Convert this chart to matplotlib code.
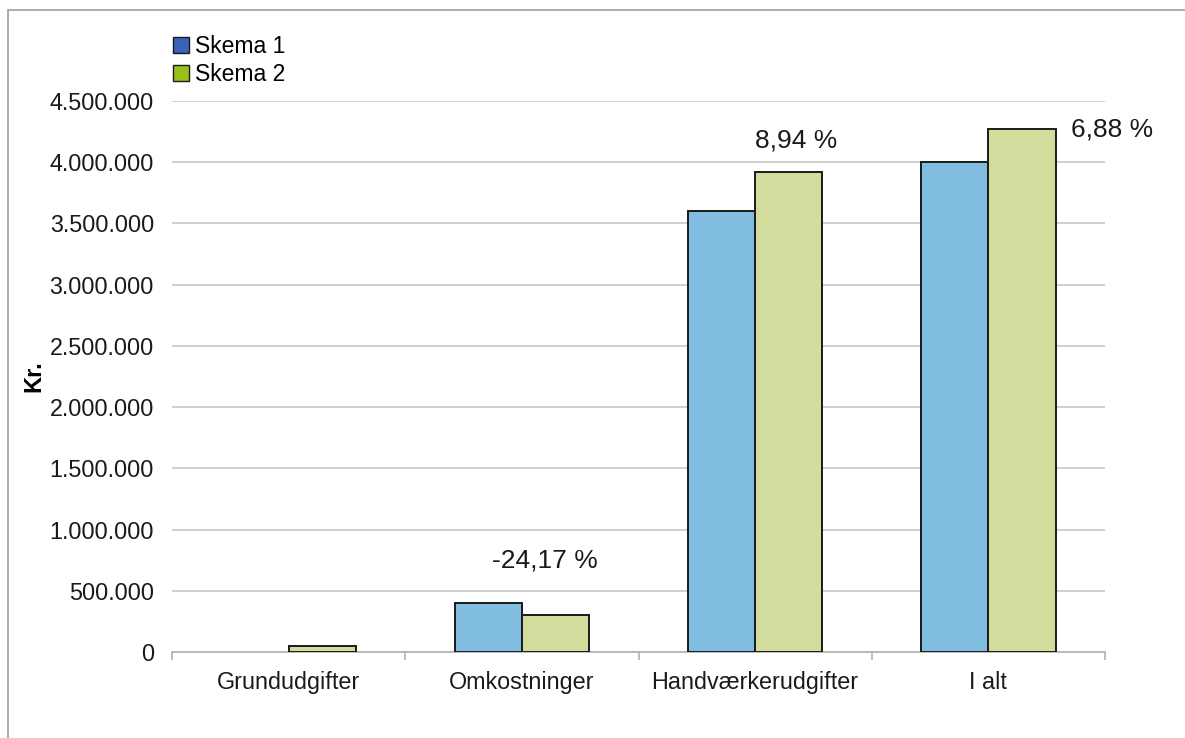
import numpy as np
import matplotlib.pyplot as plt
from matplotlib.patches import Rectangle
from matplotlib.ticker import FuncFormatter

plt.rcParams['font.family'] = ['Liberation Sans', 'DejaVu Sans']

# Data
categories = ['Grundudgifter', 'Omkostninger', 'Handværkerudgifter', 'I alt']
skema1 = [0, 400000, 3600000, 4000000]
skema2 = [50000, 303300, 3921800, 4275100]
pct_labels = ['-24,17 %', '8,94 %', '6,88 %']
pct_x = [1.10, 2.175, 3.53]
pct_y = [750000, 4180000, 4265000]
legend_names = ['Skema 1', 'Skema 2']

fig = plt.figure(figsize=(11.85, 7.38), dpi=100)
ax = fig.add_axes([172/1185, 1 - 652/738, (1105-172)/1185, (652-101)/738])

# outer frame
fig.patches.append(Rectangle((8/1185, -0.1), 1.2, 1 - 10/738 + 0.1,
                             transform=fig.transFigure, fill=False,
                             edgecolor='#a0a0a0', linewidth=1.2))

x = np.arange(len(categories))
w = 0.288
lw1 = [1.4 if v > 0 else 0 for v in skema1]
ax.bar(x - w/2, skema1, w, color='#80bde1', edgecolor='#1a1a1a', linewidth=lw1, zorder=3)
ax.bar(x + w/2, skema2, w, color='#d2dc9c', edgecolor='#1a1a1a', linewidth=1.4, zorder=3)

for t, px, py in zip(pct_labels, pct_x, pct_y):
    ax.text(px, py, t, ha='center', va='center', fontsize=19, color='#1a1a1a')

ax.set_xlim(-0.5, 3.5)
ax.set_ylim(0, 4500000)
ax.set_yticks(np.arange(0, 4500001, 500000))
ax.yaxis.set_major_formatter(FuncFormatter(lambda v, p: f'{int(v):,}'.replace(',', '.')))
ax.grid(axis='y', color='#c8c8c8', linewidth=1.2, zorder=0)
ax.set_axisbelow(True)

ax.set_xticks(x)
ax.set_xticklabels(categories, fontsize=16.8, color='#1a1a1a')
ax.set_xticks(np.arange(-0.5, 3.6, 1), minor=True)
ax.tick_params(axis='x', which='major', length=0, pad=14)
ax.tick_params(axis='x', which='minor', length=6, color='#b0b0b0', width=1.2)
ax.tick_params(axis='y', length=0, labelsize=16.8, labelcolor='#1a1a1a', pad=13)

for s in ['top', 'right', 'left']:
    ax.spines[s].set_visible(False)
ax.spines['bottom'].set_color('#b0b0b0')
ax.spines['bottom'].set_linewidth(1.2)

ax.set_ylabel('Kr.', fontsize=17, fontweight='bold', labelpad=3)

# legend with separate marker colours
h1 = plt.Line2D([], [], marker='s', linestyle='', markersize=12,
                markerfacecolor='#3a64b8', markeredgecolor='#1a1a1a')
h2 = plt.Line2D([], [], marker='s', linestyle='', markersize=12,
                markerfacecolor='#99c219', markeredgecolor='#1a1a1a')
fig.legend([h1, h2], legend_names, loc='upper left',
           bbox_to_anchor=(163/1185, 1 - 24/738), frameon=False,
           fontsize=16.5, handlelength=0.6, handletextpad=0.3,
           labelspacing=0.2, borderpad=0)

fig.savefig('out.png', dpi=100)
